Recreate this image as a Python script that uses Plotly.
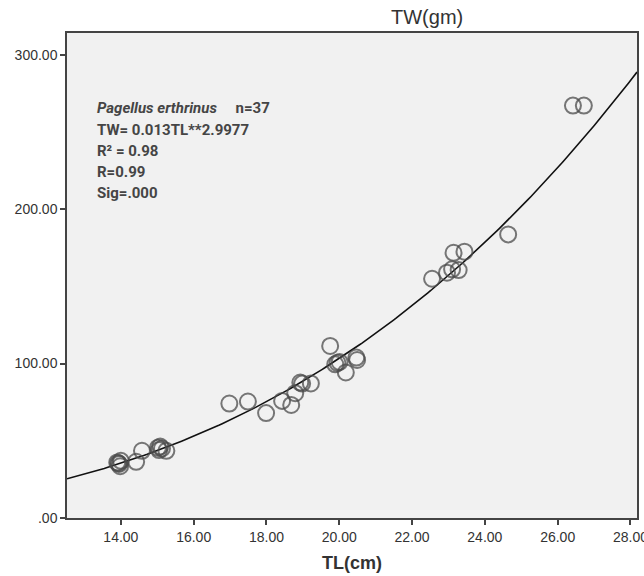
import numpy as np
import plotly.graph_objects as go

tl_cm = [13.90, 13.95, 14.00, 13.98, 13.93, 14.42, 14.58, 15.02, 15.05, 15.08, 15.13, 15.25,
         16.98, 17.49, 17.99, 18.43, 18.68, 18.79, 18.93, 18.98, 19.22,
         19.75, 19.89, 19.95, 20.01, 20.18, 20.47, 20.49,
         22.55, 22.96, 23.10, 23.28, 23.14, 23.44, 24.64, 26.42, 26.72]
tw_gm = [36.0, 35.0, 37.0, 33.5, 35.5, 36.4, 43.5, 45.5, 44.0, 46.3, 45.0, 43.5,
         74.1, 75.4, 67.9, 75.8, 73.2, 80.8, 87.7, 87.0, 87.1,
         111.4, 99.5, 100.5, 101.0, 94.2, 103.9, 102.3,
         154.9, 158.8, 161.0, 160.5, 171.7, 172.4, 183.6, 267.0, 267.0]

# Fitted model TW = a * TL ** b (as stated on the chart)
fit_a = 0.013
fit_b = 2.9977

x_ticks = [14, 16, 18, 20, 22, 24, 26, 28]
x_tick_labels = ["14.00", "16.00", "18.00", "20.00", "22.00", "24.00", "26.00", "28.00"]
y_ticks = [0, 100, 200, 300]
y_tick_labels = [".00", "100.00", "200.00", "300.00"]

stats_lines = ["<i>Pagellus erthrinus</i>     n=37",
               "TW= 0.013TL**2.9977",
               "R² = 0.98",
               "R=0.99",
               "Sig=.000"]

x_range = [12.52, 28.18]
y_range = [0, 314]

fit_x = np.linspace(x_range[0], x_range[1], 200)
fit_y = fit_a * fit_x ** fit_b

fig = go.Figure()
fig.add_trace(go.Scatter(
    x=fit_x, y=fit_y, mode="lines",
    line=dict(color="#111111", width=1.6), hoverinfo="skip", showlegend=False))
fig.add_trace(go.Scatter(
    x=tl_cm, y=tw_gm, mode="markers",
    marker=dict(symbol="circle-open", size=16, color="rgba(75,75,75,0.75)",
                line=dict(width=2, color="rgba(75,75,75,0.75)")),
    showlegend=False))

label_font = dict(family="Liberation Sans Narrow, Roboto, Liberation Sans, sans-serif",
                  size=15, color="#454545")
ys = [265.7, 251.5, 237.4, 223.7, 210.1]
for txt, yv in zip(stats_lines, ys):
    fig.add_annotation(x=13.29, y=yv, xref="x", yref="y", text="<b>" + txt + "</b>",
                       showarrow=False, xanchor="left", yanchor="middle", font=label_font)

fig.add_annotation(x=0.632, y=1.033, xref="paper", yref="paper", text="TW(gm)",
                   showarrow=False, xanchor="center", yanchor="middle",
                   font=dict(family="Liberation Sans, Arial, sans-serif", size=20, color="#333333"))
fig.add_annotation(x=0.5, y=-0.093, xref="paper", yref="paper", text="<b>TL(cm)</b>",
                   showarrow=False, xanchor="center", yanchor="middle",
                   font=dict(family="Liberation Sans, Arial, sans-serif", size=18, color="#333333"))

axis_common = dict(showline=True, linecolor="#444444", linewidth=1.5, mirror=True,
                   ticks="outside", ticklen=5, tickwidth=1.5, tickcolor="#444444",
                   showgrid=False, zeroline=False, automargin=False,
                   ticklabeloverflow="allow",
                   tickfont=dict(family="Liberation Sans, Arial, sans-serif", size=14, color="#333333"))
fig.update_xaxes(range=x_range, tickvals=x_ticks, ticktext=x_tick_labels, **axis_common)
fig.update_yaxes(range=y_range, tickvals=y_ticks, ticktext=y_tick_labels, **axis_common)

fig.update_layout(width=644, height=576,
                  margin=dict(l=67, r=7, t=33, b=58),
                  plot_bgcolor="#f1f1f1", paper_bgcolor="white")

fig.write_html("out.html", config={"displayModeBar": False},
               post_script="document.body.style.margin='0';document.body.style.overflow='hidden';")
